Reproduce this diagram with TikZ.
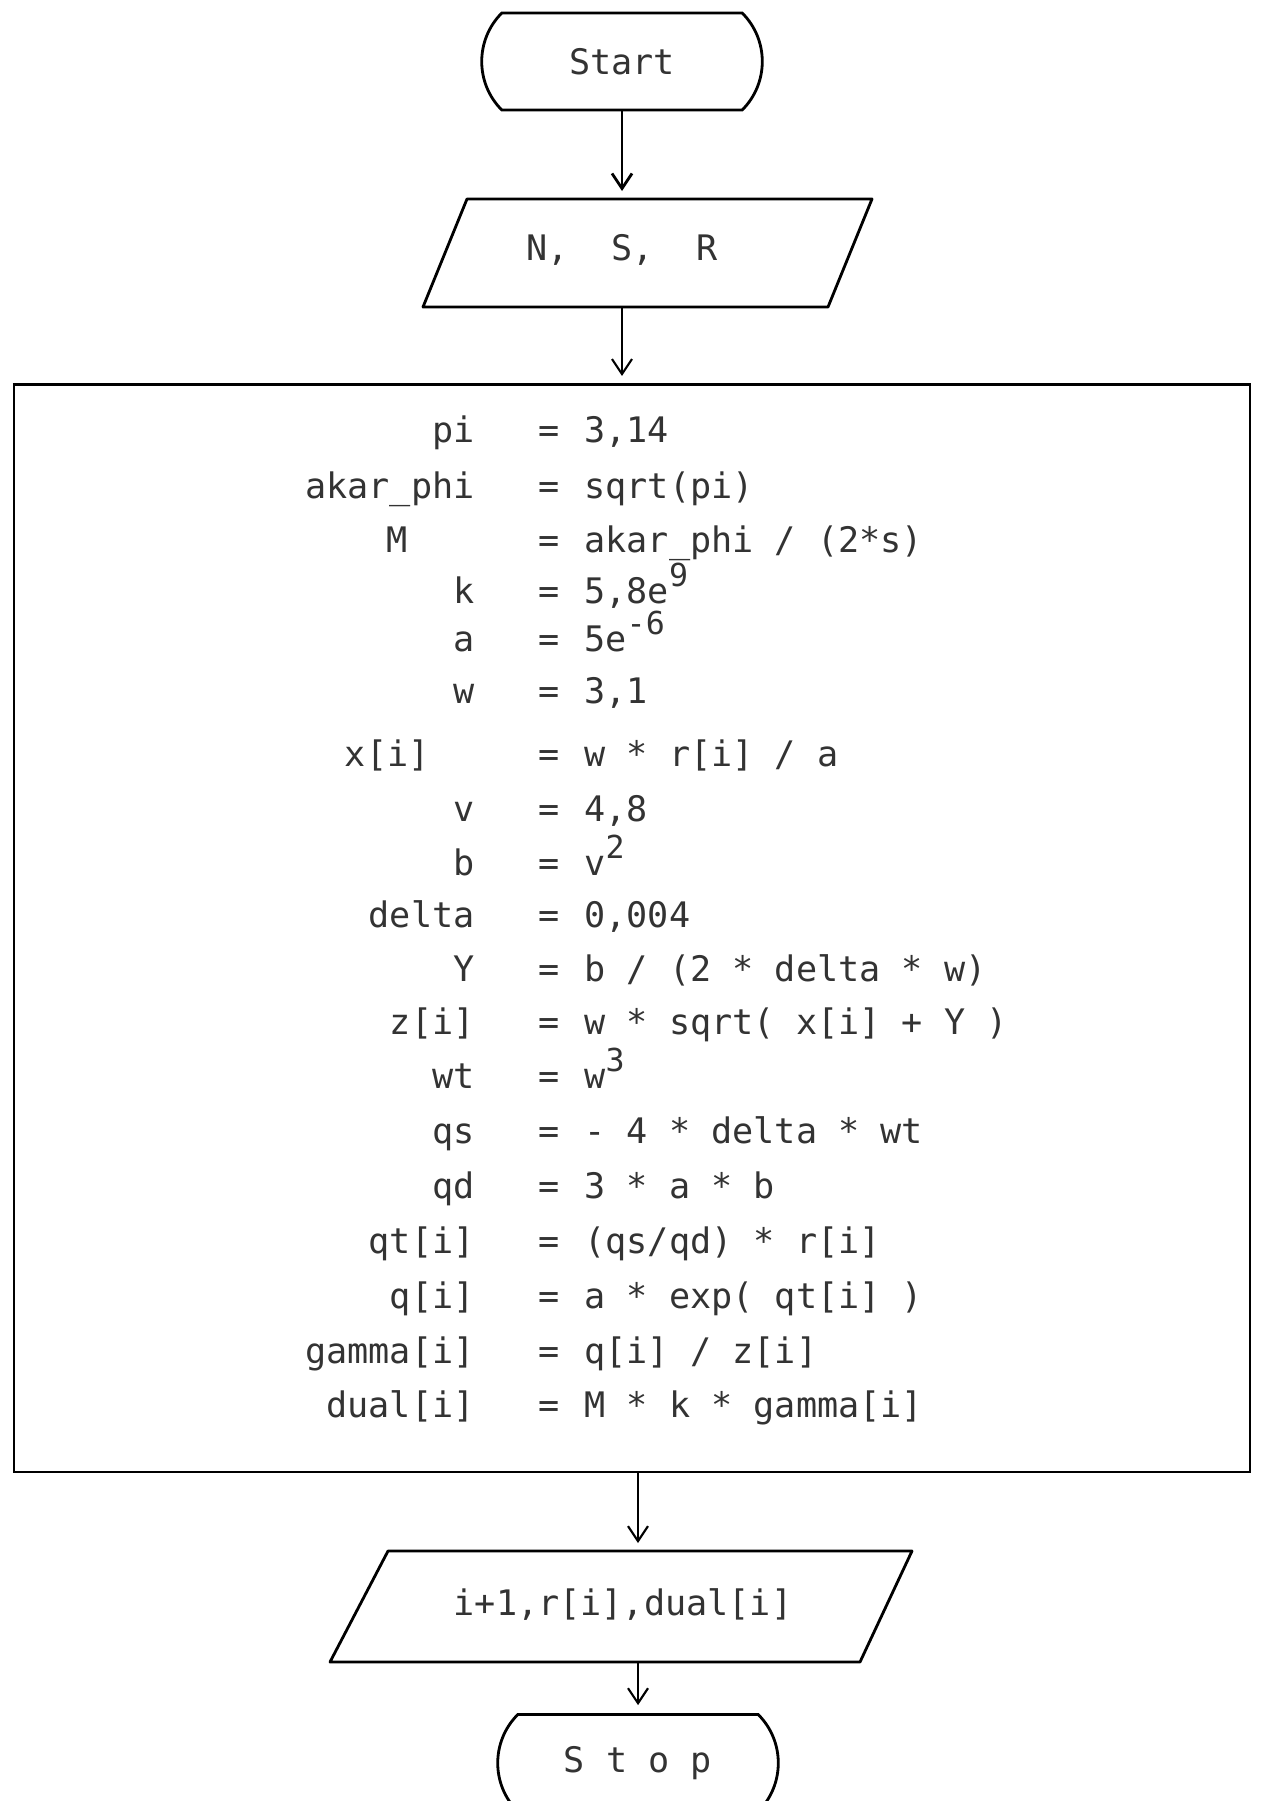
\documentclass[tikz,border=0pt]{standalone}
\usepackage{fontspec}
\setmonofont{DejaVu Sans Mono}
\usetikzlibrary{shapes.misc,arrows.meta}
\newcommand{\powr}[1]{\raisebox{0.85ex}{\small #1}}

\begin{document}
\begin{tikzpicture}[
  term/.style={draw, thick, rounded rectangle, rounded rectangle arc length=90,
    minimum width=3.04cm, minimum height=0.97cm, font=\ttfamily, text=black!80},
  io/.style={draw, thick, line join=round},
  label/.style={font=\ttfamily, text=black!80},
  lhs/.style={anchor=base east, font=\ttfamily, text=black!80},
  rhs/.style={anchor=base west, font=\ttfamily, text=black!80},
  flow/.style={-{Straight Barb[length=1.5mm,width=2mm]}, semithick, shorten >=0.8mm}
]
\useasboundingbox (0,0) rectangle (12.61,-18.01);
\clip (0,0) rectangle (12.61,-18.01);

% start and input
\node[term] (start) at (6.22,-0.615) {Start};
\coordinate (in-nw) at (4.67,-1.99);
\coordinate (in-ne) at (8.72,-1.99);
\coordinate (in-se) at (8.28,-3.07);
\coordinate (in-sw) at (4.23,-3.07);
\draw[io] (in-nw) -- (in-ne) -- (in-se) -- (in-sw) -- cycle;
\node[label] (inlabel) at (6.22,-2.50) {N,~~S,~~R};

% process box
\node[draw, semithick, minimum width=12.36cm, minimum height=10.87cm] (proc) at (6.32,-9.285) {};
\draw[thick] (proc.north west) -- (proc.north east);
\foreach \xl/\lhs/\rhs/\yb [count=\i] in {
  4.87/{pi}/{3,14}/4.42,
  4.87/{akar\_phi}/{sqrt(pi)}/4.98,
  4.20/{M}/{akar\_phi / (2*s)}/5.52,
  4.87/{k}/{5,8e\powr{9}}/6.03,
  4.87/{a}/{5e\powr{-6}}/6.51,
  4.87/{w}/{3,1}/7.03,
  4.42/{x[i]}/{w * r[i] / a}/7.66,
  4.87/{v}/{4,8}/8.21,
  4.87/{b}/{v\powr{2}}/8.75,
  4.87/{delta}/{0,004}/9.27,
  4.87/{Y}/{b / (2 * delta * w)}/9.81,
  4.87/{z[i]}/{w * sqrt( x[i] + Y )}/10.34,
  4.87/{wt}/{w\powr{3}}/10.88,
  4.87/{qs}/{- 4 * delta * wt}/11.43,
  4.87/{qd}/{3 * a * b}/11.98,
  4.87/{qt[i]}/{(qs/qd) * r[i]}/12.53,
  4.87/{q[i]}/{a * exp( qt[i] )}/13.08,
  4.87/{gamma[i]}/{q[i] / z[i]}/13.63,
  4.87/{dual[i]}/{M * k * gamma[i]}/14.17}{
  \node[lhs] (l\i) at (\xl,-\yb) {\lhs};
  \node[rhs, anchor=base] (e\i) at (5.49,-\yb) {=};
  \node[rhs] (r\i) at (5.72,-\yb) {\rhs};
}

% output and stop
\coordinate (out-nw) at (3.88,-15.51);
\coordinate (out-ne) at (9.12,-15.51);
\coordinate (out-se) at (8.60,-16.62);
\coordinate (out-sw) at (3.30,-16.62);
\draw[io] (out-nw) -- (out-ne) -- (out-se) -- (out-sw) -- cycle;
\node[label] (outlabel) at (6.23,-16.04) {i+1,r[i],dual[i]};
\node[term] (stop) at (6.38,-17.63) {S t o p};

\draw[flow, thick] (start.south) -- (start.south |- in-nw);
\draw[flow] (start.south |- in-sw) -- (start.south |- proc.north);
\draw[flow] (stop.north |- proc.south) -- (stop.north |- out-nw);
\draw[flow] (stop.north |- out-sw) -- (stop.north);
\end{tikzpicture}
\end{document}
